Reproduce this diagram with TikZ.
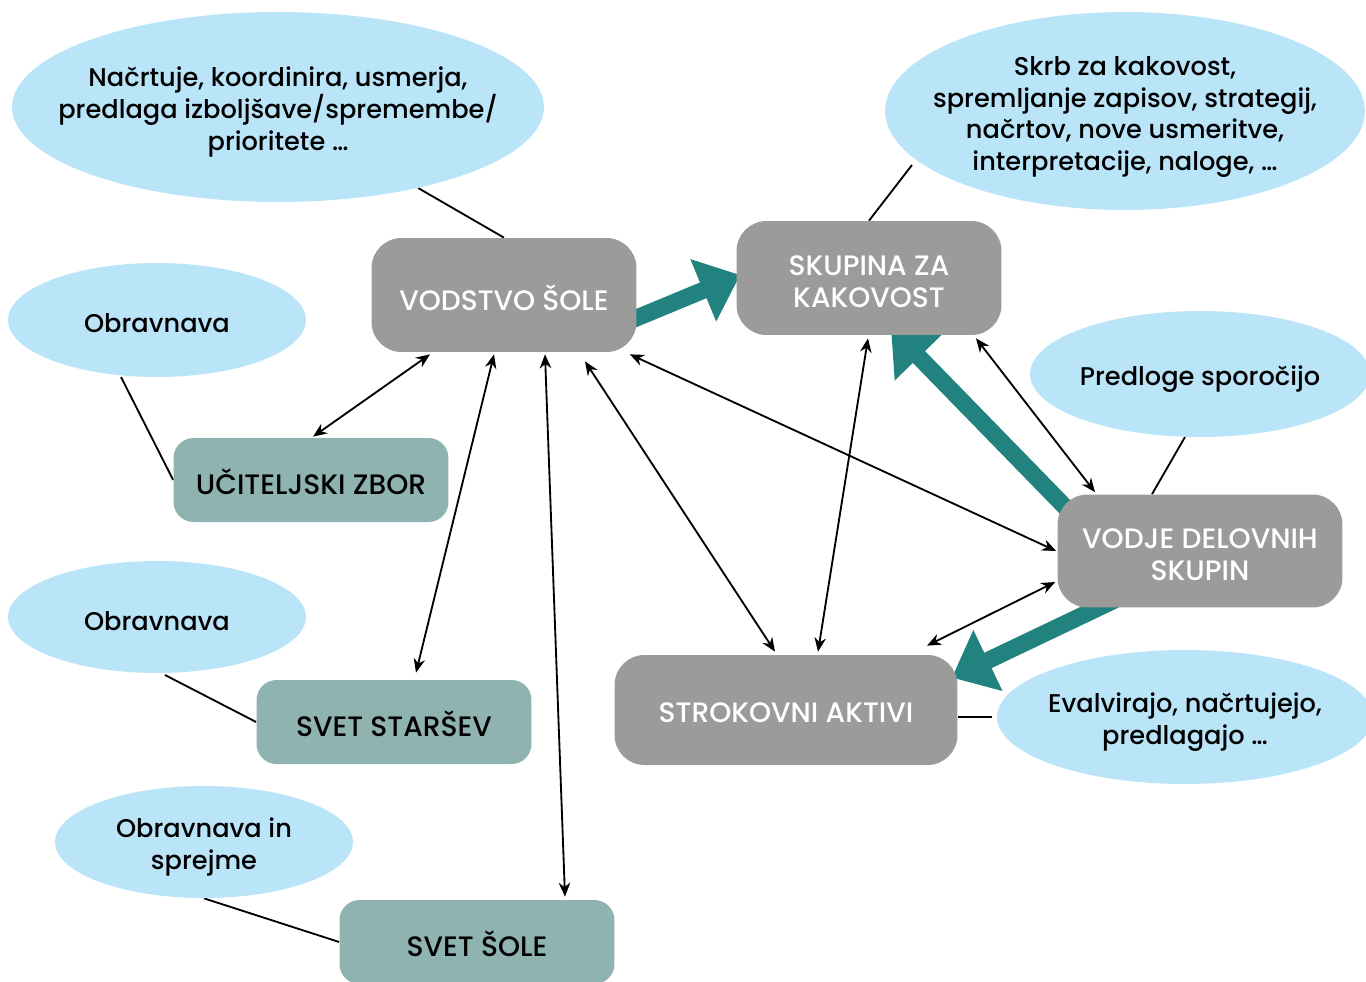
\documentclass[tikz,border=0pt]{standalone}
\usepackage{fontspec}
\setmainfont{Poppins}[UprightFont={* Medium}]
\usetikzlibrary{arrows.meta,shapes.geometric,calc,backgrounds}
\definecolor{bub}{RGB}{186,229,249}
\definecolor{gbox}{RGB}{155,155,154}
\definecolor{tbox}{RGB}{143,179,177}
\definecolor{tarr}{RGB}{34,130,127}
\begin{document}
\begin{tikzpicture}[x=0.02cm,y=-0.02cm,
  etxt/.style={inner sep=0pt, align=center, font=\fontsize{14.6}{18.2}\selectfont},
  btxt/.style={inner sep=0pt, align=center, font=\fontsize{16}{18.2}\selectfont},
  wtxt/.style={btxt, text=white},
  bubble/.style={ellipse, fill=bub, inner sep=0pt},
  graybox/.style={rectangle, rounded corners=0.6cm, fill=gbox, inner sep=0pt},
  tealbox/.style={rectangle, rounded corners=0.4cm, fill=tbox, inner sep=0pt},
  link/.style={line width=1.05pt},
  dbl/.style={line width=1.05pt, {Stealth[length=0.28cm,width=0.23cm]}-{Stealth[length=0.28cm,width=0.23cm]}},
  fat/.style={line width=0.34cm, draw=tarr, -{Triangle[length=0.8cm,width=1.3cm]}}]
\useasboundingbox (0,0) rectangle (1366,981);
\clip (0,0) rectangle (1366,981);

% bubbles
\node[bubble, minimum width=10.64cm, minimum height=3.8cm] (E1) at (278,107) {};
\node[etxt] (E1t) at ($(E1)+(0,5)$) {Načrtuje, koordinira, usmerja,\\ predlaga izboljšave/spremembe/\\ prioritete …};
\node[bubble, minimum width=9.6cm, minimum height=3.96cm] (E2) at (1125,111) {};
\node[etxt] (E2t) at ($(E2)+(0,6)$) {Skrb za kakovost,\\ spremljanje zapisov, strategij,\\ načrtov, nove usmeritve,\\ interpretacije, naloge, …};
\node[bubble, minimum width=5.96cm, minimum height=2.28cm] (E3) at (157,320) {};
\node[etxt] (E3t) at ($(E3)+(0,3)$) {Obravnava};
\node[bubble, minimum width=6.8cm, minimum height=2.52cm] (E4) at (1200,374) {};
\node[etxt] (E4t) at ($(E4)+(0,5)$) {Predloge sporočijo};
\node[bubble, minimum width=5.96cm, minimum height=2.24cm] (E5) at (157,617) {};
\node[etxt] (E5t) at ($(E5)+(0,4)$) {Obravnava};
\node[bubble, minimum width=7.52cm, minimum height=2.68cm] (E6) at (1185,717) {};
\node[etxt] (E6t) at ($(E6)+(0,5)$) {Evalvirajo, načrtujejo,\\ predlagajo …};
\node[bubble, minimum width=5.96cm, minimum height=2.24cm] (E7) at (204,842) {};
\node[etxt] (E7t) at ($(E7)+(0,5)$) {Obravnava in\\ sprejme};

% boxes
\node[graybox, minimum width=5.3cm, minimum height=2.28cm] (B1) at (504,295) {};
\node[wtxt] (B1t) at ($(B1)+(0,3)$) {VODSTVO ŠOLE};
\node[graybox, minimum width=5.3cm, minimum height=2.28cm] (B2) at (869,278) {};
\node[wtxt] (B2t) at ($(B2)+(0,4)$) {SKUPINA ZA\\ KAKOVOST};
\node[graybox, minimum width=5.7cm, minimum height=2.26cm] (B3) at (1200,551) {};
\node[wtxt] (B3t) at ($(B3)+(0,4)$) {VODJE DELOVNIH\\ SKUPIN};
\node[graybox, minimum width=6.86cm, minimum height=2.2cm] (B4) at (786,710) {};
\node[wtxt] (B4t) at ($(B4)+(0,3)$) {STROKOVNI AKTIVI};
\node[tealbox, minimum width=5.5cm, minimum height=1.68cm] (B5) at (311,480) {};
\node[btxt] (B5t) at ($(B5)+(0,2)$) {UČITELJSKI ZBOR};
\node[tealbox, minimum width=5.5cm, minimum height=1.68cm] (B6) at (394,722) {};
\node[btxt] (B6t) at ($(B6)+(0,2)$) {SVET STARŠEV};
\node[tealbox, minimum width=5.5cm, minimum height=1.68cm] (B7) at (477,942) {};
\node[btxt] (B7t) at ($(B7)+(0,2)$) {SVET ŠOLE};

\begin{scope}[on background layer]
  % plain links
  \draw[link] (E1) -- (B1.north);
  \draw[link] ($(E2.center)+(-213,54)$) -- (B2.north);
  \draw[link] ($(E3.center)+(-36,57)$) -- (B5.west);
  \draw[link] ($(E4.center)+(-15,63)$) -- ($(B3.north)+(-48,0)$);
  \draw[link] ($(E5.center)+(8,58)$) -- (B6.west);
  \draw[link] (B4.east |- E6.west) -- ($(E6.west)+(-5,0)$);
  \draw[link] (E7.south) -- (B7.west);
  % thick arrows
  \draw[fat] ($(B1.east)+(-10,27)$) -- ($(B2.west)+(4,-3)$);
  \draw[fat] ($(B3.north west)+(12,17)$) -- ($(B2.south)+(22,-7)$);
  \draw[fat] ($(B3.south)+(-85,-8)$) -- ($(B4.north east)+(-6,23)$);
\end{scope}

% double arrows
\draw[dbl] ($(B1.south)+(-74,2)$) -- ($(B5.north)+(2,-1)$);
\draw[dbl] ($(B1.south)+(-10,2)$) -- ($(B6.north)+(22,-7)$);
\draw[dbl] ($(B1.south)+(41,2)$) -- ($(B7.north)+(88,-3)$);
\draw[dbl] ($(B1.south)+(81,9)$) -- ($(B4.north)+(-11,-3)$);
\draw[dbl] ($(B1.south east)+(-7,2)$) -- ($(B3.west)+(-1,0)$);
\draw[dbl] ($(B2.south)+(-1,3)$) -- ($(B4.north)+(32,-3)$);
\draw[dbl] ($(B2.south)+(107,3)$) -- ($(B3.north)+(-105,-2)$);
\draw[dbl] ($(B3.west)+(-2,31)$) -- ($(B4.north)+(141,-9)$);
\end{tikzpicture}
\end{document}
